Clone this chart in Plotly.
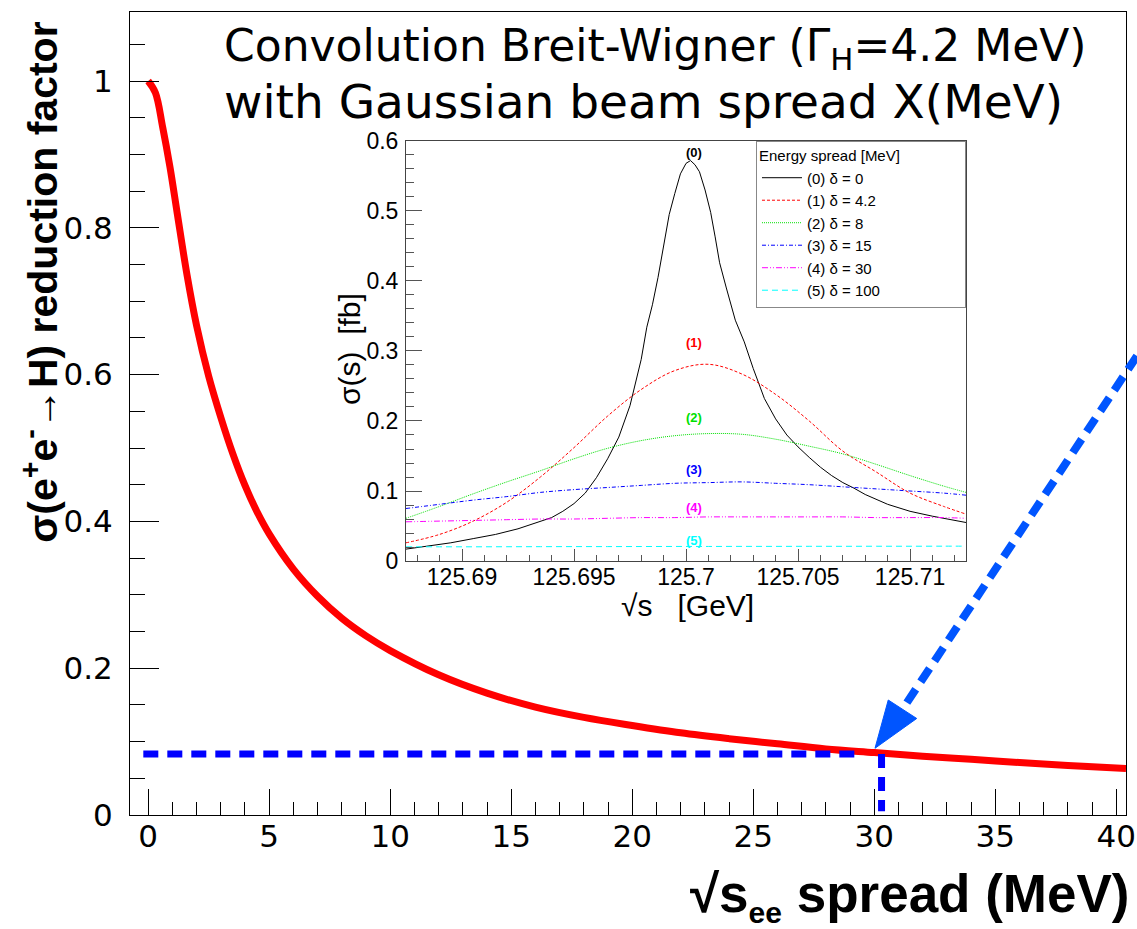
import plotly.graph_objects as go

# ---------------- main plot data ----------------
spread_mev = [0, 0.3, 0.6, 0.9, 1.2, 1.6, 2.0, 2.5, 3.0, 3.5, 4.0, 4.5, 5.0, 6.0, 7.0, 8.0,
              9.0, 10.0, 12, 14, 16, 18, 20, 22, 24, 26, 28, 30, 32, 34, 36, 38, 40.4]
reduction = [1.000, 0.984, 0.937, 0.883, 0.820, 0.737, 0.667, 0.598, 0.542, 0.492, 0.449,
             0.413, 0.383, 0.335, 0.298, 0.268, 0.244, 0.224, 0.191, 0.166, 0.147, 0.133,
             0.122, 0.112, 0.104, 0.097, 0.090, 0.085, 0.080, 0.076, 0.0715, 0.0675, 0.0635]
sel_spread = 30.3
sel_factor = 0.083
hline_start = -0.2
hline_end = 29.3

x_ticks_main = [0, 5, 10, 15, 20, 25, 30, 35, 40]
y_ticks_main = [0, 0.2, 0.4, 0.6, 0.8, 1]

# ---------------- inset data ----------------
sqrt_s_bw = [125.6875, 125.6885, 125.6895, 125.6905, 125.6915, 125.6925, 125.6935, 125.694,
             125.6945, 125.695, 125.6955, 125.696, 125.6965, 125.697, 125.6975, 125.698,
             125.69825, 125.6985, 125.69875, 125.699, 125.69925, 125.6995, 125.69975, 125.7,
             125.7002, 125.7004, 125.7006, 125.70085, 125.7011, 125.7013, 125.7015, 125.7018,
             125.7022, 125.7026, 125.703, 125.7035, 125.704, 125.7045, 125.705, 125.7055,
             125.706, 125.7065, 125.707, 125.7075, 125.708, 125.709, 125.71, 125.711,
             125.712, 125.7125]
sigma_d0 = [0.017, 0.021, 0.026, 0.032, 0.038, 0.046, 0.056, 0.062, 0.071, 0.082, 0.097,
            0.119, 0.146, 0.177, 0.222, 0.288, 0.334, 0.366, 0.405, 0.452, 0.495, 0.525,
            0.553, 0.568, 0.572, 0.566, 0.556, 0.530, 0.498, 0.463, 0.426, 0.390, 0.344,
            0.313, 0.275, 0.232, 0.203, 0.180, 0.163, 0.148, 0.134, 0.122, 0.112, 0.104,
            0.095, 0.081, 0.071, 0.064, 0.058, 0.055]

sqrt_s_grid = [125.6875, 125.689, 125.6905, 125.692, 125.6935, 125.695, 125.6965, 125.698,
               125.6995, 125.701, 125.7025, 125.704, 125.7055, 125.707, 125.7085, 125.710,
               125.7115, 125.7125]
sigma_d1 = [0.026, 0.038, 0.057, 0.084, 0.120, 0.162, 0.207, 0.245, 0.272, 0.281, 0.267,
            0.238, 0.200, 0.157, 0.127, 0.097, 0.078, 0.067]
sigma_d2 = [0.061, 0.078, 0.096, 0.113, 0.129, 0.146, 0.161, 0.172, 0.179, 0.182, 0.181,
            0.174, 0.164, 0.153, 0.138, 0.122, 0.107, 0.098]
sigma_d3 = [0.075, 0.081, 0.087, 0.092, 0.098, 0.102, 0.105, 0.108, 0.111, 0.112, 0.113,
            0.111, 0.109, 0.106, 0.103, 0.100, 0.097, 0.094]
sigma_d4 = [0.056, 0.057, 0.058, 0.059, 0.060, 0.060, 0.061, 0.062, 0.062, 0.063, 0.063,
            0.063, 0.063, 0.063, 0.062, 0.062, 0.062, 0.061]
sigma_d5 = [0.0202, 0.0203, 0.0203, 0.0204, 0.0205, 0.0206, 0.0206, 0.0207, 0.0208, 0.0208,
            0.0209, 0.0209, 0.0210, 0.0210, 0.0211, 0.0211, 0.0212, 0.0212]

legend_names = ["(0) δ = 0", "(1) δ = 4.2", "(2) δ = 8", "(3) δ = 15", "(4) δ = 30", "(5) δ = 100"]
curve_tags = ["(0)", "(1)", "(2)", "(3)", "(4)", "(5)"]
tag_y = [0.584, 0.312, 0.205, 0.131, 0.077, 0.030]
tag_x = 125.70034
inset_xticks = [125.69, 125.695, 125.7, 125.705, 125.71]
inset_xtext = ["125.69", "125.695", "125.7", "125.705", "125.71"]

colors = ["#000000", "#ff0000", "#00e000", "#0000ff", "#ff00ff", "#00ffff"]
dashes = ["solid", "3px,2px", "1px,1px", "4px,2px,1px,2px", "6px,2px,1px,2px,1px,2px", "6px,4px"]

fig = go.Figure()

# main curve
fig.add_trace(go.Scatter(x=spread_mev, y=reduction, mode="lines", line=dict(color="#ff0000", width=7),
                         line_shape="spline", showlegend=False, xaxis="x", yaxis="y"))

# inset curves
inset_x = [sqrt_s_bw] + [sqrt_s_grid] * 5
inset_y = [sigma_d0, sigma_d1, sigma_d2, sigma_d3, sigma_d4, sigma_d5]
for i in range(6):
    fig.add_trace(go.Scatter(x=inset_x[i], y=inset_y[i], mode="lines", name=legend_names[i],
                             line=dict(color=colors[i], width=1, dash=dashes[i]),
                             line_shape="linear" if i == 0 else "spline",
                             xaxis="x2", yaxis="y2"))

MAIN_FONT = "DejaVu Sans, Liberation Sans, Arial"
ROOT_FONT = "Liberation Sans, Arial, Helvetica"

fig.update_layout(
    template="none",
    width=1137, height=929,
    margin=dict(l=130, r=11, t=12, b=114, autoexpand=False),
    paper_bgcolor="white", plot_bgcolor="white",
    font=dict(family=ROOT_FONT, color="black"),
    xaxis=dict(range=[-0.75, 40.4], domain=[0, 1], anchor="y", tickvals=x_ticks_main,
               automargin=False,
               ticks="inside", ticklen=26, tickwidth=1, tickcolor="black",
               showline=True, linecolor="black", linewidth=1, mirror=True,
               showgrid=False, zeroline=False, ticklabelstandoff=-6,
               tickfont=dict(family=MAIN_FONT, size=31, color="black"),
               minor=dict(dtick=1, tick0=0, ticks="inside", ticklen=13, tickcolor="black", tickwidth=1, showgrid=False)),
    yaxis=dict(range=[0, 1.094], domain=[0, 1], anchor="x", tickvals=y_ticks_main,
               automargin=False,
               ticks="inside", ticklen=29, tickwidth=1, tickcolor="black",
               showline=True, linecolor="black", linewidth=1, mirror=True,
               showgrid=False, zeroline=False, ticklabelstandoff=10,
               tickfont=dict(family=MAIN_FONT, size=31, color="black"),
               minor=dict(dtick=0.05, tick0=0, ticks="inside", ticklen=15, tickcolor="black", tickwidth=1, showgrid=False)),
    xaxis2=dict(range=[125.6875, 125.7125], domain=[0.2771, 0.8394], anchor="y2",
                automargin=False,
                tickvals=inset_xticks, ticktext=inset_xtext,
                ticks="inside", ticklen=12, tickwidth=1, tickcolor="#555",
                showline=True, linecolor="#444", linewidth=1, mirror=True,
                showgrid=False, zeroline=False, ticklabelstandoff=-5,
                tickfont=dict(family=ROOT_FONT, size=23, color="black"),
                minor=dict(dtick=0.001, tick0=125.69, ticks="inside", ticklen=6, tickcolor="#555", tickwidth=1, showgrid=False)),
    yaxis2=dict(range=[0, 0.6], domain=[0.3163, 0.8394], anchor="x2", dtick=0.1, tick0=0,
                automargin=False,
                ticks="inside", ticklen=16, tickwidth=1, tickcolor="#555",
                showline=True, linecolor="#444", linewidth=1, mirror=True,
                showgrid=False, zeroline=False, ticklabelstandoff=2,
                tickfont=dict(family=ROOT_FONT, size=23, color="black"),
                minor=dict(dtick=0.02, tick0=0, ticks="inside", ticklen=8, tickcolor="#555", tickwidth=1, showgrid=False)),
    legend=dict(x=0.6285, y=0.8394, xanchor="left", yanchor="top", bgcolor="white",
                bordercolor="#888", borderwidth=1, itemwidth=40, tracegroupgap=0,
                font=dict(family=ROOT_FONT, size=15, color="black"),
                title=dict(text="Energy spread [MeV]" + "\u00a0" * 15, font=dict(family=ROOT_FONT, size=15, color="black"))),
    showlegend=True,
)

# reference lines (data coordinates)
fig.add_shape(type="line", xref="x", yref="y", x0=hline_start, x1=hline_end, y0=sel_factor, y1=sel_factor,
              line=dict(color="#0000ff", width=7, dash="15px,9px"))
fig.add_shape(type="line", xref="x", yref="y", x0=sel_spread, x1=sel_spread, y0=sel_factor, y1=0.005,
              line=dict(color="#0000ff", width=7, dash="14px,9px"))

# arrow (paper coordinates)
fig.add_shape(type="line", xref="paper", yref="paper", x0=1.011, y0=0.5716, x1=0.7751, y1=0.1308,
              line=dict(color="#0055ff", width=8, dash="16px,9px"))
fig.add_shape(type="path", xref="paper", yref="paper",
              path="M 0.7480,0.0831 L 0.7613,0.1432 L 0.7899,0.1202 Z",
              fillcolor="#0055ff", line=dict(color="#0055ff", width=1))

# titles
fig.add_annotation(text="Convolution Breit-Wigner (Γ<sub>H</sub>=4.2 MeV)", xref="paper", yref="paper",
                   x=0.0924, y=0.955, xanchor="left", yanchor="middle", showarrow=False,
                   font=dict(family=MAIN_FONT, size=44, color="black"))
fig.add_annotation(text="with Gaussian beam spread X(MeV)", xref="paper", yref="paper",
                   x=0.0924, y=0.888, xanchor="left", yanchor="middle", showarrow=False,
                   font=dict(family=MAIN_FONT, size=47, color="black"))

# axis titles
ytitle = "<b>σ(e<sup>+</sup>e<sup>-</sup>→H) reduction factor</b>"
xtitle = "<b>√s<sub><span style='font-size:30px'>ee</span></sub> spread (MeV)</b>"
fig.add_annotation(text=ytitle, xref="paper", yref="paper", x=-0.0904, y=0.664,
                   xanchor="center", yanchor="middle", textangle=-90, showarrow=False,
                   font=dict(family=ROOT_FONT, size=41, color="black"))
fig.add_annotation(text=xtitle, xref="paper", yref="paper", x=1.005, y=-0.101,
                   xanchor="right", yanchor="middle", showarrow=False,
                   font=dict(family=ROOT_FONT, size=53, color="black"))

# inset axis titles
fig.add_annotation(text="σ(s)  [fb]", xref="paper", yref="paper", x=0.2199, y=0.5803,
                   xanchor="center", yanchor="middle", textangle=-90, showarrow=False,
                   font=dict(family=ROOT_FONT, size=30, color="black"))
fig.add_annotation(text="√s   [GeV]", xref="paper", yref="paper", x=0.560, y=0.2615,
                   xanchor="center", yanchor="middle", showarrow=False,
                   font=dict(family=ROOT_FONT, size=30, color="black"))

# curve tags
for i in range(6):
    fig.add_annotation(text="<b>" + curve_tags[i] + "</b>", xref="x2", yref="y2", x=tag_x, y=tag_y[i],
                       showarrow=False, font=dict(family=ROOT_FONT, size=13, color=colors[i]))

fig.write_html("out.html", config={"displayModeBar": False},
               post_script="document.body.style.margin='0px';document.body.style.overflow='hidden';")
